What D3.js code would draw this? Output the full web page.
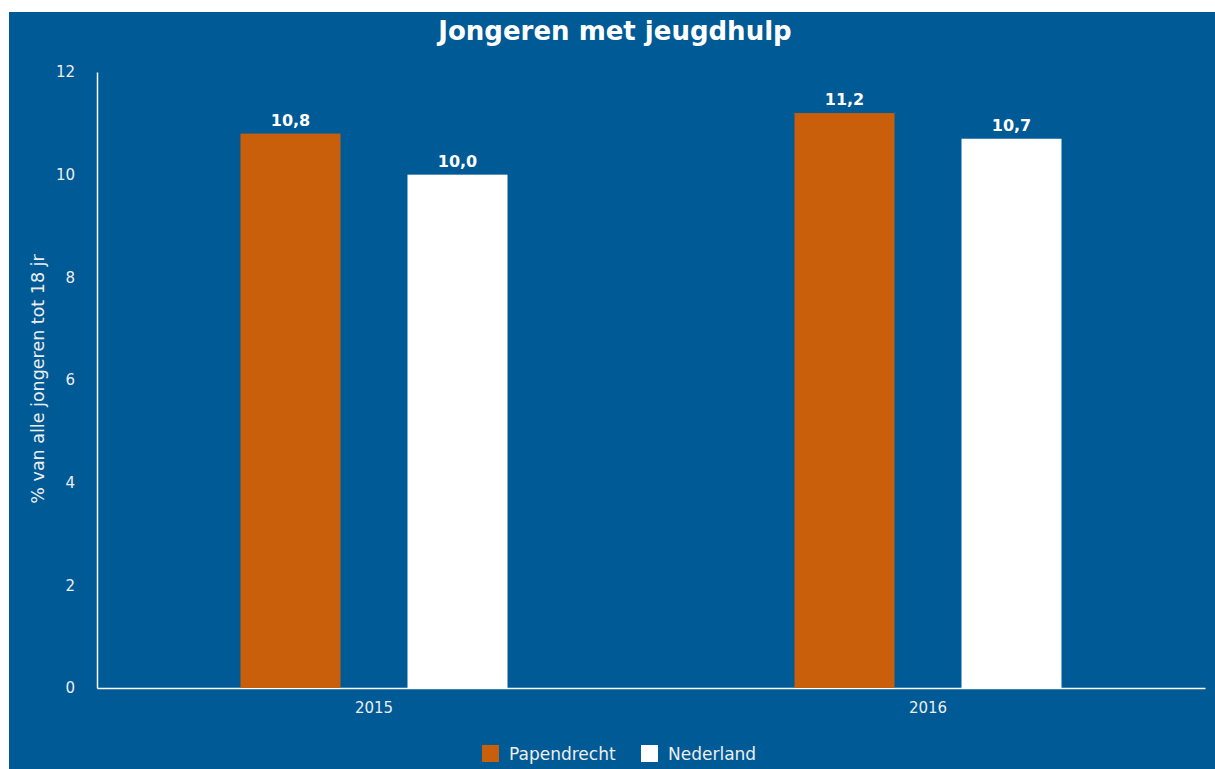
<!DOCTYPE html>
<html><head><meta charset="utf-8">
<script src="https://cdn.jsdelivr.net/npm/d3@7"></script>
<style>body{margin:0;background:#fff;font-family:"DejaVu Sans",sans-serif}</style>
</head><body><svg id="c" width="1215" height="769"></svg>
<script>
const categories = ["2015","2016"];
const seriesNames = ["Papendrecht","Nederland"];
const papendrecht = [10.8, 11.2];
const nederland = [10.0, 10.7];
const yTicks = [0,2,4,6,8,10,12];
const colors = ["#C95F0A","#FFFFFF"];

const svg = d3.select("#c");
svg.append("rect").attr("x",9).attr("y",12).attr("width",1206).attr("height",757).attr("fill","#005A96");

const x0 = d3.scaleBand().domain(categories).range([97,1205]);
const x1 = d3.scaleOrdinal().domain(seriesNames).range([-83.5, 83.5]);
const y = d3.scaleLinear().domain([0,12]).range([688,72]);
const barW = 100;

svg.append("text").attr("x",615).attr("y",40).attr("text-anchor","middle")
  .attr("fill","#fff").attr("font-size",26).attr("font-weight","bold").text("Jongeren met jeugdhulp");

const yAxis = svg.append("g").attr("transform","translate(97,0)")
  .call(d3.axisLeft(y).tickValues(yTicks).tickSize(0).tickPadding(22).tickFormat(d3.format("d")));
yAxis.select(".domain").attr("stroke","#fff").attr("stroke-width",1.5);
yAxis.selectAll("text").attr("fill","#eee").attr("font-size",15).attr("font-family","DejaVu Sans");

const xAxis = svg.append("g").attr("transform","translate(0,688)")
  .call(d3.axisBottom(x0).tickSize(0).tickPadding(14).tickSizeOuter(0));
xAxis.select(".domain").attr("stroke","#fff").attr("stroke-width",1.5);
xAxis.selectAll("text").attr("fill","#eee").attr("font-size",15).attr("font-family","DejaVu Sans");

svg.append("text").attr("transform","translate(44,379) rotate(-90)").attr("text-anchor","middle")
  .attr("fill","#eee").attr("font-size",17.5).text("% van alle jongeren tot 18 jr");

const series = [papendrecht, nederland];
const fmt = v => d3.format(".1f")(v).replace(".", ",");
series.forEach((vals, si) => {
  const g = svg.append("g");
  g.selectAll("rect").data(vals).join("rect")
    .attr("x",(d,i)=>x0(categories[i]) + x0.bandwidth()/2 + x1(seriesNames[si]) - barW/2)
    .attr("y",d=>y(d)).attr("width",barW).attr("height",d=>y(0)-y(d))
    .attr("fill",colors[si]);
  g.selectAll("text").data(vals).join("text")
    .attr("x",(d,i)=>x0(categories[i]) + x0.bandwidth()/2 + x1(seriesNames[si]))
    .attr("y",d=>y(d)-8).attr("text-anchor","middle").attr("fill","#fff")
    .attr("font-size",16).attr("font-weight","bold").text(d=>fmt(d));
});

const legX = [482, 641];
seriesNames.forEach((n,i)=>{
  svg.append("rect").attr("x",legX[i]).attr("y",745).attr("width",17).attr("height",17).attr("fill",colors[i]);
  svg.append("text").attr("x",legX[i]+27).attr("y",760).attr("fill","#eee").attr("font-size",17).text(n);
});
</script></body></html>
